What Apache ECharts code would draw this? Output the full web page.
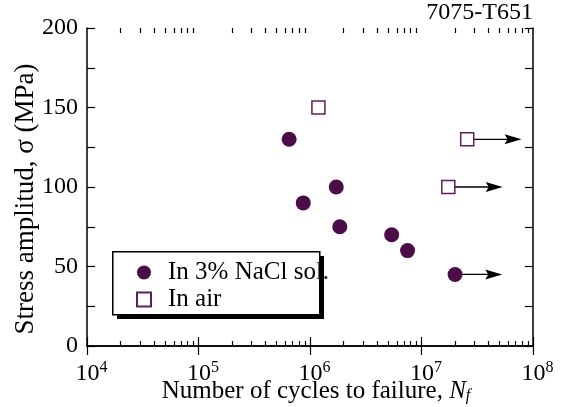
<!DOCTYPE html>
<html>
<head>
<meta charset="utf-8">
<script src="https://cdn.jsdelivr.net/npm/echarts@6/dist/echarts.min.js"></script>
<style>
html,body{margin:0;padding:0;background:#fff;}
#chart{width:563px;height:407px;}
</style>
</head>
<body>
<div id="chart"></div>
<script>
// ---- data ----
const naclName = 'In 3% NaCl sol.';
const naclCycles = [6.5e5, 8.7e5, 1.72e6, 1.85e6, 5.4e6, 7.5e6, 2.0e7];
const naclStress = [130, 90, 100, 75, 70, 60, 45];

const airName = 'In air';
const airCycles = [1.19e6, 2.57e7, 1.74e7];
const airStress = [150, 130, 100];

// run-outs (arrows): start cycles, arrow tip cycles, stress
const runoutStart = [2.0e7, 2.57e7, 1.74e7];
const runoutEnd = [5.3e7, 7.9e7, 5.35e7];
const runoutStress = [45, 130, 100];

const xMin = 1e4, xMax = 1e8;
const yMin = 0, yMax = 200, yTickStep = 25, yLabelStep = 50;
const titleText = '7075-T651';
const xTitle = 'Number of cycles to failure, ';
const yTitle = 'Stress amplitud, σ (MPa)';

// ---- build ----
const FONT = "'Liberation Serif', 'Times New Roman', Times, serif";
const circleColor = '#4a0d47';
const squareColor = '#5c1f58';

const nacl = naclCycles.map((c, i) => [c, naclStress[i]]);
const air = airCycles.map((c, i) => [c, airStress[i]]);
const runouts = runoutStart.map((s, i) => [s, runoutEnd[i], runoutStress[i]]);

// log minor tick positions (2..9 x 10^n)
const minorValues = [];
for (let e = Math.log10(xMin); e < Math.log10(xMax); e++) {
  for (let k = 2; k <= 9; k++) minorValues.push(k * Math.pow(10, e));
}

const chart = echarts.init(document.getElementById('chart'), null, {renderer: 'canvas'});

const axisLine = {show: true, lineStyle: {color: '#000', width: 1.5}};

function minorAxis(position) {
  return {
    type: 'log', logBase: 10, min: xMin, max: xMax, position: position,
    axisLine: {show: false},
    axisTick: {show: true, inside: true, length: 5, customValues: minorValues, lineStyle: {color: '#000', width: 1.2}},
    axisLabel: {show: false}, splitLine: {show: false}
  };
}

const option = {
  animation: false,
  backgroundColor: '#fff',
  textStyle: {fontFamily: FONT, color: '#000'},
  title: {
    text: titleText, right: 30, top: 1, padding: 0,
    textStyle: {fontFamily: FONT, fontSize: 24, fontWeight: 'normal', color: '#000'}
  },
  grid: {left: 87, right: 30, top: 28, bottom: 61, containLabel: false, outerBoundsMode: 'none'},
  graphic: [
    {type: 'rect', left: 117, top: 256, z: 50, shape: {width: 207, height: 63}, style: {fill: '#000'}},
    {type: 'rect', left: 112, top: 251, z: 51, shape: {width: 207, height: 63}, style: {fill: '#fff', stroke: '#000', lineWidth: 1.5}}
  ],
  legend: {
    orient: 'vertical', left: 136, top: 260, z: 60,
    itemWidth: 14, itemHeight: 14, itemGap: 2, padding: 0,
    textStyle: {fontFamily: FONT, fontSize: 25, color: '#000', lineHeight: 25, padding: [0, 0, 0, 12]},
    data: [naclName, airName]
  },
  xAxis: [
    {
      type: 'log', logBase: 10, min: xMin, max: xMax, position: 'bottom',
      axisLine: axisLine,
      axisTick: {show: true, inside: true, length: 9, lineStyle: {color: '#000', width: 1.2}},
      splitLine: {show: false},
      axisLabel: {
        margin: 14,
        formatter: v => '{pad| }{b|10}{sup|' + Math.round(Math.log10(v)) + '}',
        rich: {
          pad: {width: 9, fontSize: 16},
          b: {fontFamily: FONT, fontSize: 24, color: '#000'},
          sup: {fontFamily: FONT, fontSize: 16, color: '#000', padding: [0, 0, 12, 0]}
        }
      },
      name: '{t|' + xTitle + '}{i|N}{sub|f}',
      nameLocation: 'middle', nameGap: 33, nameMoveOverlap: false,
      nameTextStyle: {
        padding: [0, 0, 0, 12],
        rich: {
          t: {fontFamily: FONT, fontSize: 25, color: '#000'},
          i: {fontFamily: FONT, fontSize: 25, fontStyle: 'italic', color: '#000'},
          sub: {fontFamily: FONT, fontSize: 16, fontStyle: 'italic', color: '#000', padding: [8, 0, 0, 0]}
        }
      }
    },
    {
      type: 'log', logBase: 10, min: xMin, max: xMax, position: 'top',
      axisLine: axisLine,
      axisTick: {show: true, inside: true, length: 9, lineStyle: {color: '#000', width: 1.2}},
      axisLabel: {show: false}, splitLine: {show: false}
    },
    minorAxis('bottom'),
    minorAxis('top')
  ],
  yAxis: [
    {
      type: 'value', min: yMin, max: yMax, interval: yTickStep, position: 'left',
      axisLine: axisLine,
      axisTick: {show: true, inside: true, length: 8, lineStyle: {color: '#000', width: 1.2}},
      splitLine: {show: false},
      axisLabel: {
        margin: 9, fontFamily: FONT, fontSize: 24, color: '#000',
        formatter: v => (v % yLabelStep === 0 ? String(v) : '')
      },
      name: yTitle, nameLocation: 'middle', nameGap: 48, nameMoveOverlap: false,
      nameTextStyle: {fontFamily: FONT, fontSize: 27, color: '#000', padding: [0, 24, 0, 0]}
    },
    {
      type: 'value', min: yMin, max: yMax, interval: yTickStep, position: 'right',
      axisLine: axisLine,
      axisTick: {show: true, inside: true, length: 8, lineStyle: {color: '#000', width: 1.2}},
      axisLabel: {show: false}, splitLine: {show: false}
    }
  ],
  series: [
    {
      type: 'custom', name: 'runouts', silent: true, z: 2,
      xAxisIndex: 0, yAxisIndex: 0,
      encode: {x: [0, 1], y: 2},
      data: runouts,
      renderItem: (params, api) => {
        const s = api.coord([api.value(0), api.value(2)]);
        const e = api.coord([api.value(1), api.value(2)]);
        return {
          type: 'group',
          children: [
            {type: 'line', shape: {x1: s[0], y1: s[1], x2: e[0] - 12, y2: e[1]}, style: {stroke: '#000', lineWidth: 1.3}},
            {type: 'polygon', shape: {points: [[e[0], e[1]], [e[0] - 17, e[1] - 5], [e[0] - 14, e[1]], [e[0] - 17, e[1] + 5]]}, style: {fill: '#000'}}
          ]
        };
      }
    },
    {
      type: 'scatter', name: naclName, z: 5, xAxisIndex: 0, yAxisIndex: 0,
      symbol: 'circle', symbolSize: 15,
      itemStyle: {color: circleColor, opacity: 1},
      data: nacl
    },
    {
      type: 'scatter', name: airName, z: 5, xAxisIndex: 0, yAxisIndex: 0,
      symbol: 'rect', symbolSize: 13,
      itemStyle: {color: '#fff', borderColor: squareColor, borderWidth: 1.5, opacity: 1},
      data: air
    }
  ]
};
chart.setOption(option);
</script>
</body>
</html>
